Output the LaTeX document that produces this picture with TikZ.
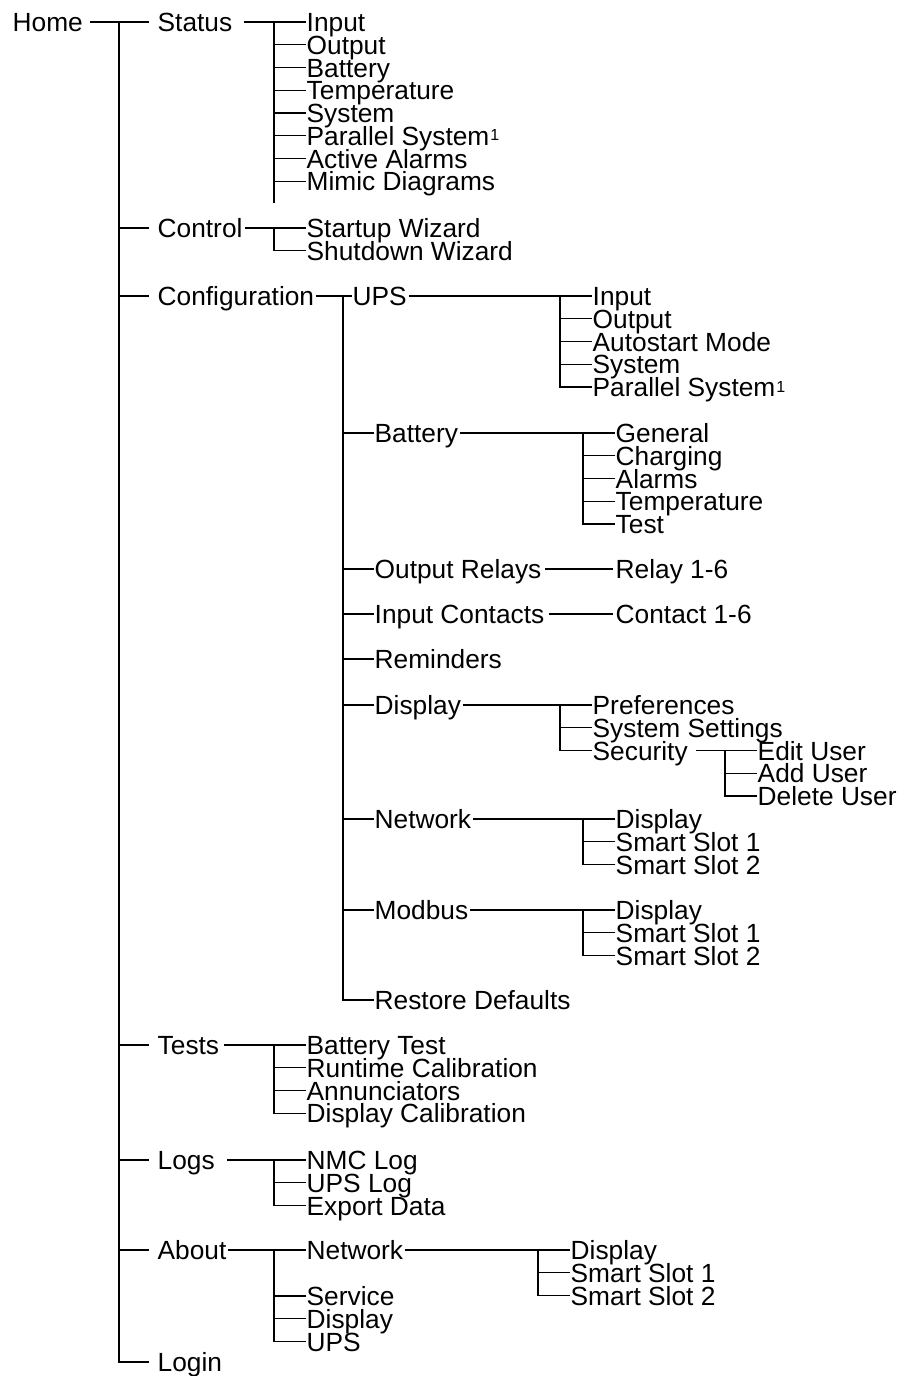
\documentclass[tikz,border=0pt]{standalone}
\usepackage{fontspec}
\setmainfont{Liberation Sans}
\newcommand{\footmark}{\kern1pt\raisebox{4.5pt}{\fontsize{16}{16}\selectfont 1}}
\begin{document}
\begin{tikzpicture}[x=1pt, y=-1pt, line width=1.4pt,
  font=\fontsize{26.3}{26.3}\selectfont,
  every node/.style={inner sep=0pt, anchor=west, text height=19pt, text depth=0pt}]
  \useasboundingbox (0,0) rectangle (907,1376);

  % top level menu
  \node (home) at (12,22) {Home};
  \coordinate (homeT) at (119,22);
  \draw ([xshift=6]home.east) -- (homeT);
  \foreach \n/\t/\y in {status/Status/22, control/Control/228, config/Configuration/296,
                        tests/Tests/1045, logs/Logs/1160, about/About/1250, login/Login/1362}
  {
    \node (\n) at (157,\y) {\t};
    \draw ([xshift=-8]\n.west) -| (homeT);
  }

  % Status
  \coordinate (statusT) at (274,22);
  \coordinate (statusE) at (274,203);
  \draw ([xshift=11]status.east) -- (statusT) -- (statusE);
  \foreach \t [count=\i from 0] in {Input, Output, Battery, Temperature, System,
      {Parallel System\footmark}, Active Alarms, Mimic Diagrams}
  {
    \node (status\i) at (306,{22+22.75*\i}) {\t};
    \draw (status\i.west) -| (statusT);
  }

  % Control
  \coordinate (controlT) at (274,228);
  \draw ([xshift=2]control.east) -- (controlT);
  \foreach \t [count=\i from 0] in {Startup Wizard, Shutdown Wizard}
  {
    \node (control\i) at (306,{228+22.75*\i}) {\t};
    \draw (control\i.west) -| (controlT);
  }

  % Configuration
  \coordinate (configT) at (343,296);
  \node (ups) at (352,296) {UPS};
  \draw ([xshift=1]config.east) -- (configT) -- (ups.west);
  \foreach \n/\t/\y in {cbat/Battery/433, relays/Output Relays/569, contacts/Input Contacts/614,
                        remind/Reminders/659, cdisp/Display/705, cnet/Network/819,
                        modbus/Modbus/910, restore/Restore Defaults/1000}
  {
    \node (\n) at (374,\y) {\t};
    \draw (\n.west) -| (configT);
  }

  % Configuration > UPS
  \coordinate (upsT) at (560,296);
  \draw ([xshift=2]ups.east) -- (upsT);
  \foreach \t [count=\i from 0] in {Input, Output, Autostart Mode, System,
      {Parallel System\footmark}}
  {
    \node (ups\i) at (592,{296+22.75*\i}) {\t};
    \draw (ups\i.west) -| (upsT);
  }

  % Configuration > Battery
  \coordinate (cbatT) at (583,433);
  \draw ([xshift=1]cbat.east) -- (cbatT);
  \foreach \t [count=\i from 0] in {General, Charging, Alarms, Temperature, Test}
  {
    \node (cbat\i) at (615,{433+22.75*\i}) {\t};
    \draw (cbat\i.west) -| (cbatT);
  }

  % relays and contacts
  \node (relay) at (615,569) {Relay 1-6};
  \node (contact) at (615,614) {Contact 1-6};
  \draw ([xshift=3]relays.east) -- ([xshift=-2]relay.west);
  \draw ([xshift=4]contacts.east) -- ([xshift=-2]contact.west);

  % Configuration > Display
  \coordinate (cdispT) at (560,705);
  \draw ([xshift=1]cdisp.east) -- (cdispT);
  \foreach \t [count=\i from 0] in {Preferences, System Settings, Security}
  {
    \node (cdisp\i) at (592,{705+22.75*\i}) {\t};
    \draw (cdisp\i.west) -| (cdispT);
  }

  % Security
  \coordinate (secT) at (725,750.5);
  \draw ([xshift=8]cdisp2.east) -- (secT);
  \foreach \t [count=\i from 0] in {Edit User, Add User, Delete User}
  {
    \node (sec\i) at (757,{750.5+22.75*\i}) {\t};
    \draw (sec\i.west) -| (secT);
  }

  % Configuration > Network
  \coordinate (cnetT) at (583,819);
  \draw ([xshift=1]cnet.east) -- (cnetT);
  \foreach \t [count=\i from 0] in {Display, Smart Slot 1, Smart Slot 2}
  {
    \node (cnet\i) at (615,{819+22.75*\i}) {\t};
    \draw (cnet\i.west) -| (cnetT);
  }

  % Configuration > Modbus
  \coordinate (modbusT) at (583,910);
  \draw ([xshift=1]modbus.east) -- (modbusT);
  \foreach \t [count=\i from 0] in {Display, Smart Slot 1, Smart Slot 2}
  {
    \node (modbus\i) at (615,{910+22.75*\i}) {\t};
    \draw (modbus\i.west) -| (modbusT);
  }

  % Tests
  \coordinate (testsT) at (274,1045);
  \draw ([xshift=4]tests.east) -- (testsT);
  \foreach \t [count=\i from 0] in {Battery Test, Runtime Calibration, Annunciators,
      Display Calibration}
  {
    \node (tests\i) at (306,{1045+22.75*\i}) {\t};
    \draw (tests\i.west) -| (testsT);
  }

  % Logs
  \coordinate (logsT) at (274,1160);
  \draw ([xshift=12]logs.east) -- (logsT);
  \foreach \t [count=\i from 0] in {NMC Log, UPS Log, Export Data}
  {
    \node (logs\i) at (306,{1160+22.75*\i}) {\t};
    \draw (logs\i.west) -| (logsT);
  }

  % About
  \coordinate (aboutT) at (274,1250);
  \draw ([xshift=1]about.east) -- (aboutT);
  \foreach \n/\t/\y in {anet/Network/1250, service/Service/1296,
                        adisp/Display/1318.75, aups/UPS/1341.5}
  {
    \node (\n) at (306,\y) {\t};
    \draw (\n.west) -| (aboutT);
  }

  % About > Network
  \coordinate (anetT) at (538,1250);
  \draw ([xshift=1]anet.east) -- (anetT);
  \foreach \t [count=\i from 0] in {Display, Smart Slot 1, Smart Slot 2}
  {
    \node (anet\i) at (570,{1250+22.75*\i}) {\t};
    \draw (anet\i.west) -| (anetT);
  }
\end{tikzpicture}
\end{document}
